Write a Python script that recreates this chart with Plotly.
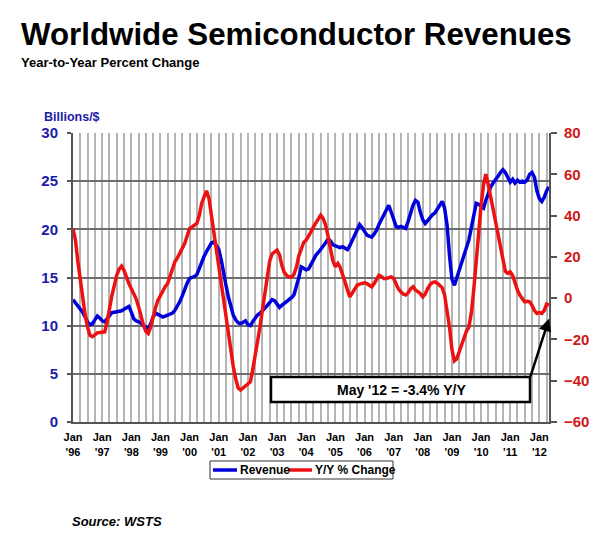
import pandas as pd
import plotly.graph_objects as go

# Monthly worldwide semiconductor revenue (billions $), Jan 1996 - May 2012
revenue_bn = [
    12.7, 12.4, 12.1, 11.8, 11.4, 10.9, 10.4, 10.1, 10.2, 10.6, 11.0, 10.8,   # 1996
    10.5, 10.4, 10.7, 11.1, 11.35, 11.4, 11.45, 11.5, 11.55, 11.7, 11.85, 12.0,  # 1997
    11.4, 10.7, 10.5, 10.4, 10.3, 10.0, 9.8, 9.7, 10.2, 10.9, 11.3, 11.2,     # 1998
    11.0, 10.9, 11.0, 11.1, 11.2, 11.3, 11.6, 12.0, 12.5, 13.1, 13.8, 14.4,   # 1999
    14.9, 15.0, 15.1, 15.3, 16.0, 16.6, 17.2, 17.7, 18.2, 18.6, 18.7, 18.3,   # 2000
    17.9, 16.8, 15.3, 14.2, 13.0, 12.0, 11.1, 10.6, 10.3, 10.2, 10.4, 10.5,   # 2001
    10.1, 10.0, 10.4, 10.8, 11.1, 11.3, 11.5, 11.8, 12.1, 12.4, 12.7, 12.6,   # 2002
    12.2, 11.9, 12.1, 12.3, 12.5, 12.6, 12.9, 13.2, 14.0, 15.0, 16.1, 16.0,   # 2003
    15.8, 15.9, 16.4, 16.9, 17.3, 17.6, 17.9, 18.3, 18.6, 19.0, 18.8, 18.4,   # 2004
    18.3, 18.2, 18.1, 18.2, 18.0, 17.9, 18.3, 18.9, 19.4, 19.9, 20.5, 20.2,   # 2005
    19.8, 19.4, 19.3, 19.2, 19.5, 19.9, 20.5, 21.0, 21.6, 22.1, 22.5, 21.8,   # 2006
    21.0, 20.3, 20.2, 20.3, 20.2, 20.1, 20.8, 21.7, 22.5, 23.0, 22.8, 21.8,   # 2007
    21.0, 20.6, 20.9, 21.2, 21.5, 21.7, 22.1, 22.6, 22.9, 22.2, 20.4, 17.3,   # 2008
    14.8, 14.2, 14.9, 15.6, 16.5, 17.3, 18.1, 18.9, 20.2, 21.5, 22.7, 22.6,   # 2009
    22.4, 22.2, 23.0, 23.8, 24.4, 24.8, 25.1, 25.5, 25.9, 26.2, 25.9, 25.3,   # 2010
    24.9, 25.2, 24.8, 25.1, 24.9, 25.0, 24.9, 25.1, 25.7, 25.9, 25.4, 24.0,   # 2011
    23.2, 22.9, 23.3, 24.0, 24.4,                                             # 2012
]

# Year-to-year percent change
yoy_pct = [
    33.8, 28.0, 18.0, 8.7, 0.0, -8.0, -14.0, -18.0, -18.7, -17.5, -16.8, -16.6,  # 1996
    -16.4, -16.3, -12.0, -5.0, 1.0, 6.0, 11.0, 14.0, 15.5, 13.5, 10.0, 7.0,     # 1997
    4.5, 2.0, -0.2, -4.0, -9.0, -13.0, -16.0, -17.1, -14.0, -9.0, -4.5, -1.0,   # 1998
    1.5, 3.5, 5.5, 7.1, 10.5, 14.0, 17.6, 19.5, 21.5, 24.1, 26.5, 30.0,         # 1999
    33.8, 34.5, 35.5, 36.2, 40.0, 46.0, 49.1, 52.0, 48.0, 40.0, 31.0, 21.0,     # 2000
    14.5, 6.0, -1.5, -10.0, -19.0, -26.0, -33.0, -39.0, -43.5, -44.5, -43.5, -42.5,  # 2001
    -41.5, -40.5, -35.0, -28.5, -22.0, -14.0, -6.0, 2.0, 10.0, 18.0, 21.5, 22.5,    # 2002
    23.3, 21.0, 16.0, 12.5, 11.0, 10.3, 10.3, 11.5, 15.0, 20.5, 24.0, 27.0,     # 2003
    28.1, 30.0, 32.1, 34.5, 36.2, 38.5, 40.2, 38.5, 35.4, 30.0, 23.3, 18.0,     # 2004
    15.2, 16.8, 15.0, 12.0, 8.0, 4.0, 0.6, 2.5, 4.5, 6.3, 6.8, 7.2,             # 2005
    7.4, 7.0, 6.5, 5.5, 7.0, 9.0, 11.1, 10.5, 9.5, 9.5, 9.8, 10.3,              # 2006
    9.5, 7.0, 4.5, 3.1, 2.0, 1.5, 2.5, 4.5, 5.5, 4.0, 3.0, 2.3,                 # 2007
    0.6, 2.0, 4.5, 6.5, 7.5, 7.9, 7.2, 6.0, 5.0, 1.5, -6.0, -14.0,              # 2008
    -25.0, -30.4, -29.5, -26.0, -22.5, -18.7, -16.0, -14.0, -7.0, 4.0, 18.0, 33.0,  # 2009
    45.0, 55.0, 60.1, 55.0, 49.0, 43.0, 37.0, 30.0, 23.0, 17.0, 13.0, 12.0,     # 2010
    12.7, 11.0, 7.5, 3.9, 1.5, -0.5, -1.8, -1.5, -1.8, -3.5, -6.0, -7.4,        # 2011
    -7.0, -7.4, -6.0, -2.9, -3.4,                                               # 2012
]

months = pd.date_range("1996-01-01", periods=len(revenue_bn), freq="MS")

title_text = "Worldwide Semiconductor Revenues"
subtitle_text = "Year-to-Year Percent Change"
callout_text = "May '12 = -3.4% Y/Y"
source_text = "Source: WSTS"

BLUE = "#0000dd"
RED = "#ee1111"
LBLUE = "#1c1caa"
LRED = "#d01818"
FONT = "Liberation Sans, Arial, sans-serif"

fig = go.Figure()
fig.add_trace(go.Scatter(x=months, y=revenue_bn, mode="lines", name="Revenue",
                         line=dict(color=BLUE, width=3.5), yaxis="y"))
fig.add_trace(go.Scatter(x=months, y=yoy_pct, mode="lines", name="Y/Y % Change",
                         line=dict(color=RED, width=3.5), yaxis="y2"))

# page body has an 8px margin; work in screen pixels and convert
OFF = 8
W, H = 600 - OFF, 541 - OFF
L, R, T, B = 73, 549, 133, 422          # plot area in screen pixels
pw, ph = R - L, B - T


def px(x):
    return (x - L) / pw


def py(y):
    return (B - y) / ph


fig.update_layout(
    width=W, height=H,
    margin=dict(l=L - OFF, r=W - (R - OFF), t=T - OFF, b=H - (B - OFF)),
    paper_bgcolor="white", plot_bgcolor="white",
    showlegend=False,
    font=dict(family=FONT, color="black"),
    xaxis=dict(
        type="date",
        range=[months[0], months[-1]],
        dtick="M12", tick0="1996-01-01",
        tickformat="<b>%b</b><br><b>'%y</b>",
        tickfont=dict(size=11, color="black", family=FONT),
        showgrid=True, gridcolor="#b4b4b4", gridwidth=2,
        minor=dict(dtick="M3", tick0="1996-01-01", showgrid=True,
                   gridcolor="#b4b4b4", gridwidth=2),
        showline=True, linecolor="#555555", linewidth=2,
        ticks="", ticklabelstandoff=4,
        zeroline=False,
    ),
    yaxis=dict(
        range=[0, 30], dtick=5,
        tickfont=dict(size=15, color=LBLUE, family=FONT),
        tickprefix="<b>", ticksuffix="</b>",
        showgrid=True, gridcolor="#6e6e6e", gridwidth=1.5,
        showline=True, linecolor="#555555", linewidth=2,
        ticks="outside", ticklen=4, tickcolor="#555555", tickwidth=1.5,
        ticklabelstandoff=6,
        zeroline=False,
    ),
    yaxis2=dict(
        range=[-60, 80], dtick=20, overlaying="y", side="right",
        tickfont=dict(size=15, color=LRED, family=FONT),
        tickprefix="<b>", ticksuffix="</b>",
        showgrid=False, zeroline=False,
        showline=True, linecolor="#555555", linewidth=2,
        ticks="outside", ticklen=6, tickcolor="#555555", tickwidth=1.5,
        ticklabelstandoff=4,
    ),
)

annotations = [
    dict(text=f"<b>{title_text}</b>", x=px(19), y=py(35), xref="paper", yref="paper",
         xanchor="left", yanchor="middle", showarrow=False,
         font=dict(size=31.3, color="black", family=FONT)),
    dict(text=f"<b>{subtitle_text}</b>", x=px(19), y=py(62), xref="paper", yref="paper",
         xanchor="left", yanchor="middle", showarrow=False,
         font=dict(size=13, color="black", family=FONT)),
    dict(text="<b>Billions/$</b>", x=px(42), y=py(117), xref="paper", yref="paper",
         xanchor="left", yanchor="middle", showarrow=False,
         font=dict(size=12.5, color=LBLUE, family=FONT)),
    dict(text=f"<b><i>{source_text}</i></b>", x=px(70), y=py(521), xref="paper", yref="paper",
         xanchor="left", yanchor="middle", showarrow=False,
         font=dict(size=13, color="black", family=FONT)),
    dict(text=f"<b>{callout_text}</b>", x=px(401), y=py(389.5), xref="paper", yref="paper",
         xanchor="center", yanchor="middle", showarrow=False,
         font=dict(size=14, color="black", family=FONT)),
    # arrow from call-out box to the latest point
    dict(text="", x=months[-1], y=-10, xref="x", yref="y2",
         ax=-19, ay=59, axref="pixel", ayref="pixel",
         showarrow=True, arrowhead=2, arrowsize=1, arrowwidth=2.5, arrowcolor="black"),
    # legend labels
    dict(text="<b>Revenue</b>", x=px(238), y=py(470), xref="paper", yref="paper",
         xanchor="left", yanchor="middle", showarrow=False,
         font=dict(size=12, color="black", family=FONT)),
    dict(text="<b>Y/Y % Change</b>", x=px(313), y=py(470), xref="paper", yref="paper",
         xanchor="left", yanchor="middle", showarrow=False,
         font=dict(size=12, color="black", family=FONT)),
]
fig.update_layout(annotations=annotations)

shapes = [
    # call-out box
    dict(type="rect", xref="paper", yref="paper",
         x0=px(271), x1=px(530), y0=py(402), y1=py(377),
         line=dict(color="black", width=2.5), fillcolor="white", layer="above"),
    # legend box
    dict(type="rect", xref="paper", yref="paper",
         x0=px(210), x1=px(393), y0=py(479), y1=py(461),
         line=dict(color="#333333", width=1), fillcolor="white"),
    dict(type="line", xref="paper", yref="paper",
         x0=px(213), x1=px(237), y0=py(470), y1=py(470),
         line=dict(color=BLUE, width=3.5)),
    dict(type="line", xref="paper", yref="paper",
         x0=px(288), x1=px(312), y0=py(470), y1=py(470),
         line=dict(color=RED, width=3.5)),
]
fig.update_layout(shapes=shapes)

fig.write_html("out.html")
